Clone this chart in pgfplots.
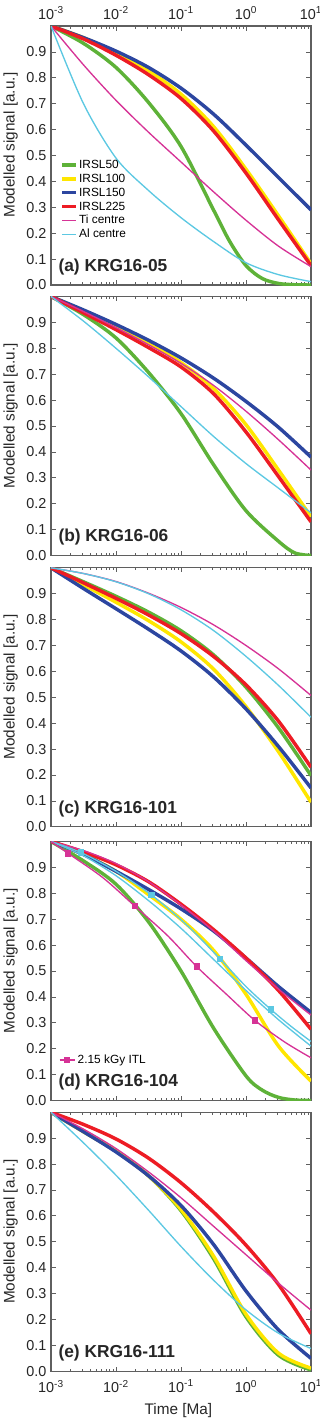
\documentclass[border=0pt]{standalone}
\usepackage{pgfplots}
\pgfplotsset{compat=1.18}
\usepackage{fontspec}
\setmainfont{Liberation Sans}
\definecolor{cgreen}{RGB}{94,178,56}
\definecolor{cyellow}{RGB}{255,230,0}
\definecolor{cblue}{RGB}{44,70,160}
\definecolor{cred}{RGB}{237,28,36}
\definecolor{cmag}{RGB}{214,51,150}
\definecolor{ccyan}{RGB}{92,200,226}
\definecolor{axgray}{RGB}{95,95,95}
\pgfplotsset{
 mypanel/.style={
  scale only axis, width=195pt, height=194.25pt,
  xmin=1e-3, xmax=10, ymin=0, ymax=1,
  xtick={1e-3,1e-2,1e-1,1,10},
  xticklabels={10\textsuperscript{-3},10\textsuperscript{-2},10\textsuperscript{-1},10\textsuperscript{0},10\textsuperscript{1}},
  ytick={0,0.1,0.2,0.3,0.4,0.5,0.6,0.7,0.8,0.9},
  y tick label style={/pgf/number format/fixed,/pgf/number format/fixed zerofill,/pgf/number format/precision=1,/pgf/number format/assume math mode=true},
  tick label style={font=\fontsize{10.8}{13}\selectfont, text=black!85},
  axis line style={axgray, line width=0.8pt},
  tick style={axgray, line width=0.6pt},
  major tick length=3.5pt, minor tick length=2pt,
  ylabel={Modelled signal [a.u.]},
  ylabel style={at={(axis description cs:-0.155,0.54)}, anchor=center, font=\fontsize{11.5}{13}\selectfont, text=black!85},
 },
 irsl/.style={line width=2.6pt, smooth},
 thinl/.style={line width=1.0pt, smooth},
}
\newcommand{\plabel}[1]{\node[anchor=west, inner sep=0pt, font=\bfseries\fontsize{13}{15}\selectfont, text=black!85] at (axis description cs:0.028,0.07) {#1};}
\begin{document}
\begin{tikzpicture}
\useasboundingbox (0,0) rectangle (240pt,-1065.75pt);
% ---------------- (a)
\begin{axis}[xmode=log, mypanel, at={(38.25pt,-19.5pt)}, anchor=north west, xticklabel pos=right,
  x tick label style={yshift=1.5pt},
  legend image code/.code={\draw[#1] (0pt,0pt) -- (10.5pt,0pt);},
  legend style={at={(axis description cs:0.035,0.49)}, anchor=north west, draw=none, fill=none, font=\fontsize{8.9}{10.7}\selectfont, inner sep=0pt, row sep=0.4pt, cells={anchor=west}, nodes={inner sep=1pt, text height=6.6pt, text depth=1.4pt}}]
\addplot[cgreen, irsl] coordinates {(0.001,1.0) (0.0031623,0.933) (0.01,0.84) (0.031623,0.705) (0.1,0.535) (0.31623,0.29) (0.56234,0.168) (1,0.075) (1.7783,0.025) (3.1623,0.006) (5.6234,0.001) (10,0.0)};
\addlegendentry{IRSL50}
\addplot[cyellow, irsl] coordinates {(0.001,1.0) (0.0031623,0.955) (0.01,0.897) (0.031623,0.827) (0.1,0.737) (0.31623,0.612) (1,0.447) (3.1623,0.267) (10,0.082)};
\addlegendentry{IRSL100}
\addplot[cblue, irsl] coordinates {(0.001,1.0) (0.0031623,0.955) (0.01,0.903) (0.031623,0.84) (0.1,0.76) (0.31623,0.66) (1,0.54) (3.1623,0.415) (10,0.29)};
\addlegendentry{IRSL150}
\addplot[cred, irsl] coordinates {(0.001,1.0) (0.0031623,0.95) (0.01,0.887) (0.031623,0.812) (0.1,0.72) (0.31623,0.595) (1,0.432) (3.1623,0.252) (10,0.075)};
\addlegendentry{IRSL225}
\addplot[cmag, thinl] coordinates {(0.001,1.0) (0.0031623,0.85) (0.01,0.713) (0.031623,0.59) (0.1,0.475) (0.31623,0.36) (1,0.25) (3.1623,0.15) (10,0.071)};
\addlegendentry{Ti centre}
\addplot[ccyan, thinl] coordinates {(0.001,1.0) (0.0031623,0.70) (0.01,0.49) (0.031623,0.365) (0.1,0.26) (0.31623,0.168) (1,0.086) (3.1623,0.04) (10,0.013)};
\addlegendentry{Al centre}
\plabel{(a) KRG16-05}
\end{axis}
% ---------------- (b)
\begin{axis}[xmode=log, mypanel, at={(38.25pt,-222.375pt)}, anchor=north west, xticklabels={}]
\addplot[cgreen, irsl] coordinates {(0.001,1.0) (0.0031623,0.93) (0.01,0.84) (0.031623,0.707) (0.1,0.548) (0.31623,0.351) (1,0.173) (3.1623,0.055) (5.6234,0.01) (10,0.0)};
\addplot[cyellow, irsl] coordinates {(0.001,1.0) (0.0031623,0.945) (0.01,0.885) (0.031623,0.82) (0.1,0.745) (0.31623,0.645) (1,0.505) (3.1623,0.33) (10,0.15)};
\addplot[cblue, irsl] coordinates {(0.001,1.0) (0.0031623,0.948) (0.01,0.892) (0.031623,0.831) (0.1,0.763) (0.31623,0.685) (1,0.595) (3.1623,0.495) (10,0.38)};
\addplot[cred, irsl] coordinates {(0.001,1.0) (0.0031623,0.937) (0.01,0.872) (0.031623,0.803) (0.1,0.728) (0.31623,0.625) (1,0.477) (3.1623,0.305) (10,0.13)};
\addplot[cmag, thinl] coordinates {(0.001,1.0) (0.0031623,0.942) (0.01,0.88) (0.031623,0.814) (0.1,0.742) (0.31623,0.657) (1,0.557) (3.1623,0.447) (10,0.33)};
\addplot[ccyan, thinl] coordinates {(0.001,1.0) (0.0031623,0.905) (0.01,0.80) (0.031623,0.69) (0.1,0.575) (0.31623,0.46) (1,0.355) (3.1623,0.26) (10,0.165)};
\plabel{(b) KRG16-06}
\end{axis}
% ---------------- (c)
\begin{axis}[xmode=log, mypanel, at={(38.25pt,-425.85pt)}, anchor=north west, xticklabels={}]
\addplot[cgreen, irsl] coordinates {(0.001,1.0) (0.0031623,0.946) (0.01,0.89) (0.031623,0.829) (0.1,0.757) (0.31623,0.664) (1,0.539) (3.1623,0.382) (10,0.198)};
\addplot[cyellow, irsl] coordinates {(0.001,1.0) (0.0031623,0.934) (0.01,0.867) (0.031623,0.796) (0.1,0.714) (0.31623,0.609) (1,0.464) (3.1623,0.29) (10,0.095)};
\addplot[cblue, irsl] coordinates {(0.001,1.0) (0.0031623,0.92) (0.01,0.842) (0.031623,0.763) (0.1,0.679) (0.31623,0.579) (1,0.455) (3.1623,0.31) (10,0.15)};
\addplot[cred, irsl] coordinates {(0.001,1.0) (0.0031623,0.942) (0.01,0.882) (0.031623,0.818) (0.1,0.746) (0.31623,0.658) (1,0.548) (3.1623,0.408) (10,0.23)};
\addplot[cmag, thinl] coordinates {(0.001,1.0) (0.0031623,0.978) (0.01,0.947) (0.031623,0.902) (0.1,0.847) (0.31623,0.78) (1,0.70) (3.1623,0.61) (10,0.507)};
\addplot[ccyan, thinl] coordinates {(0.001,1.0) (0.0031623,0.978) (0.01,0.946) (0.031623,0.90) (0.1,0.838) (0.31623,0.758) (1,0.658) (3.1623,0.546) (10,0.423)};
\plabel{(c) KRG16-101}
\end{axis}
% ---------------- (d)
\begin{axis}[xmode=log, mypanel, at={(38.25pt,-631.125pt)}, anchor=north west, xticklabels={},
  legend style={at={(axis description cs:0.03,0.157)}, anchor=west, draw=none, fill=none, font=\fontsize{8.9}{10.7}\selectfont, inner sep=0pt, cells={anchor=west}},
  legend image code/.code={\draw[mark repeat=2,mark phase=2,#1] plot coordinates {(0pt,0pt) (5.5pt,0pt) (11pt,0pt)};}]
\addplot[cgreen, irsl, forget plot] coordinates {(0.001,1.0) (0.0031623,0.925) (0.01,0.835) (0.031623,0.69) (0.1,0.50) (0.31623,0.28) (1,0.095) (1.7783,0.04) (3.1623,0.012) (5.6234,0.002) (10,0.0)};
\addplot[cyellow, irsl, forget plot] coordinates {(0.001,1.0) (0.0031623,0.95) (0.01,0.885) (0.031623,0.795) (0.1,0.70) (0.31623,0.58) (1,0.41) (3.1623,0.21) (10,0.075)};
\addplot[cblue, irsl, forget plot] coordinates {(0.001,1.0) (0.0031623,0.95) (0.01,0.885) (0.031623,0.815) (0.1,0.74) (0.31623,0.655) (1,0.55) (3.1623,0.44) (10,0.34)};
\addplot[cred, irsl, forget plot] coordinates {(0.001,1.0) (0.0031623,0.96) (0.01,0.91) (0.031623,0.845) (0.1,0.758) (0.31623,0.66) (1,0.55) (3.1623,0.425) (10,0.275)};
\addplot[cmag, thinl, forget plot] coordinates {(0.001,1.0) (0.0031623,0.965) (0.01,0.915) (0.031623,0.845) (0.1,0.755) (0.31623,0.655) (1,0.54) (3.1623,0.43) (10,0.33)};
\addplot[ccyan, thinl, forget plot] coordinates {(0.001,1.0) (0.0031623,0.945) (0.01,0.868) (0.031623,0.772) (0.1,0.665) (0.31623,0.545) (1,0.425) (3.1623,0.312) (10,0.21)};
\addplot[ccyan, thinl, forget plot, mark=square*, mark size=1.9pt, mark options={solid, fill=ccyan, draw=ccyan}, mark indices={2,4,6,8}] coordinates {(0.001,1.0) (0.002864,0.958) (0.01,0.885) (0.0354,0.793) (0.1259,0.675) (0.398,0.547) (1,0.44) (2.427,0.351) (5.012,0.285) (10,0.228)};
\addplot[cmag, thinl, mark=square*, mark size=1.9pt, mark options={solid, fill=cmag, draw=cmag}, mark indices={2,4,6,8}] coordinates {(0.001,1.0) (0.001845,0.954) (0.00631,0.86) (0.01959,0.75) (0.0631,0.635) (0.1746,0.517) (0.501,0.41) (1.374,0.309) (3.98,0.225) (10,0.165)};
\addlegendentry{2.15 kGy ITL}
\plabel{(d) KRG16-104}
\end{axis}
% ---------------- (e)
\begin{axis}[xmode=log, mypanel, at={(38.25pt,-834.2pt)}, anchor=north west,
  x tick label style={yshift=-3pt},
  xlabel={Time [Ma]}, xlabel style={at={(axis description cs:0.49,-0.15)}, anchor=center, font=\fontsize{11.5}{13}\selectfont, text=black!85}]
\addplot[cgreen, irsl] coordinates {(0.001,1.0) (0.0031623,0.925) (0.01,0.85) (0.031623,0.755) (0.1,0.62) (0.31623,0.435) (1,0.21) (3.1623,0.062) (10,0.005)};
\addplot[cyellow, irsl] coordinates {(0.001,1.0) (0.0031623,0.925) (0.01,0.85) (0.031623,0.755) (0.1,0.625) (0.31623,0.445) (1,0.22) (3.1623,0.07) (10,0.012)};
\addplot[cblue, irsl] coordinates {(0.001,1.0) (0.0031623,0.925) (0.01,0.847) (0.031623,0.755) (0.1,0.64) (0.31623,0.49) (1,0.31) (3.1623,0.16) (10,0.05)};
\addplot[cred, irsl] coordinates {(0.001,1.0) (0.0031623,0.953) (0.01,0.897) (0.031623,0.823) (0.1,0.728) (0.31623,0.615) (1,0.487) (3.1623,0.335) (10,0.145)};
\addplot[cmag, thinl] coordinates {(0.001,1.0) (0.0031623,0.935) (0.01,0.86) (0.031623,0.77) (0.1,0.67) (0.31623,0.56) (1,0.45) (3.1623,0.34) (10,0.236)};
\addplot[ccyan, thinl] coordinates {(0.001,1.0) (0.0031623,0.882) (0.01,0.757) (0.031623,0.622) (0.1,0.482) (0.31623,0.352) (1,0.237) (3.1623,0.147) (10,0.088)};
\plabel{(e) KRG16-111}
\end{axis}
\end{tikzpicture}
\end{document}
